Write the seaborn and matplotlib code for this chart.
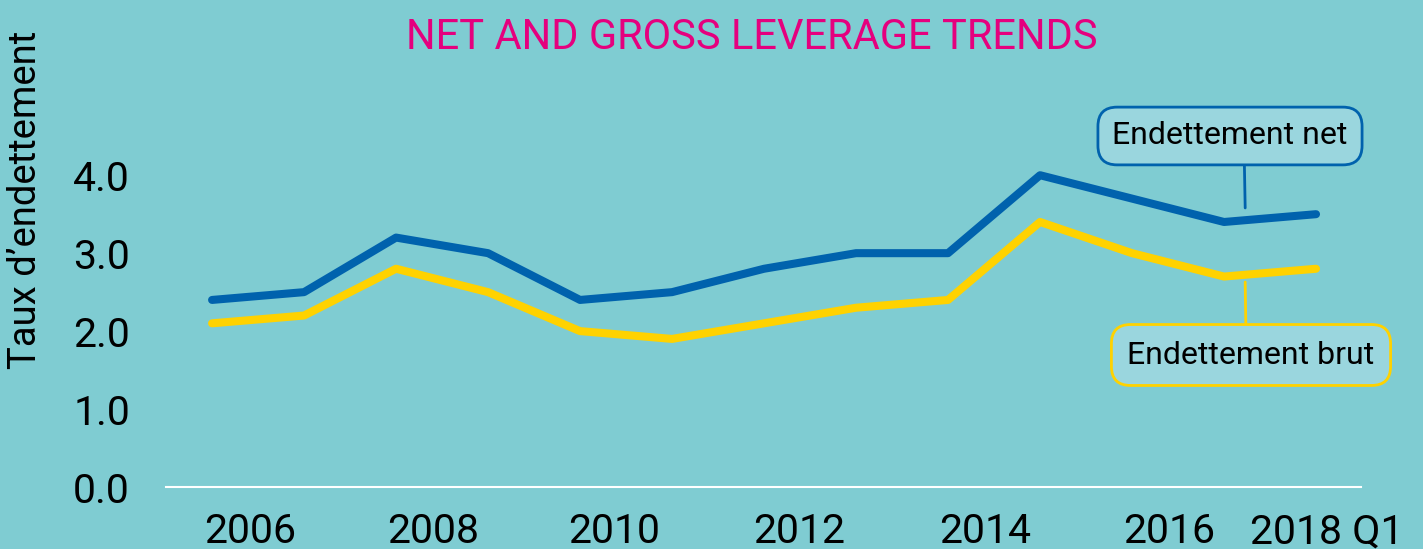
import matplotlib
matplotlib.use("Agg")
import matplotlib.pyplot as plt
import seaborn as sns
import pandas as pd

# ---- data ----
periods = list(range(13))
net_leverage = [2.4, 2.5, 3.2, 3.0, 2.4, 2.5, 2.8, 3.0, 3.0, 4.0, 3.7, 3.4, 3.5]
gross_leverage = [2.1, 2.2, 2.8, 2.5, 2.0, 1.9, 2.1, 2.3, 2.4, 3.4, 3.0, 2.7, 2.8]
series_names = ["Endettement net", "Endettement brut"]
x_tick_labels = ["2006", "2008", "2010", "2012", "2014", "2016", "2018 Q1"]
y_ticks = [0.0, 1.0, 2.0, 3.0, 4.0]

BG = "#7fccd2"
BLUE = "#0062ad"
YELLOW = "#ffd200"
MAGENTA = "#e5007e"
BOXFILL = "#9ad6de"

sns.set_theme(style="white")
plt.rcParams["font.family"] = ["Roboto", "DejaVu Sans"]

df = pd.DataFrame({
    "period": periods * 2,
    "value": net_leverage + gross_leverage,
    "series": [series_names[0]] * len(periods) + [series_names[1]] * len(periods),
})

fig = plt.figure(figsize=(14.23, 5.49), dpi=100, facecolor=BG)
ax = fig.add_axes([0.1167, 0.1129, 0.8398, 0.70])
ax.set_facecolor(BG)

sns.lineplot(data=df, x="period", y="value", hue="series",
             palette={series_names[0]: BLUE, series_names[1]: YELLOW},
             linewidth=5.8, legend=False, ax=ax, solid_capstyle="round")

ax.set_xlim(-0.5, 12.49)
ax.set_ylim(0, 4.93)

tick_pos = [0.41, 2.4, 4.37, 6.38, 8.4, 10.4, 12.12]
ax.set_xticks(tick_pos)
ax.set_xticklabels(x_tick_labels)
ax.set_yticks(y_ticks)
ax.set_yticklabels([f"{v:.1f}" for v in y_ticks])
ax.tick_params(axis="both", length=0, labelsize=29.5, colors="black")
ax.tick_params(axis="y", pad=26)
ax.tick_params(axis="x", pad=18)
ax.set_xlabel("")
ax.set_ylabel("")

for s in ["top", "right", "left"]:
    ax.spines[s].set_visible(False)
ax.spines["bottom"].set_color("white")
ax.spines["bottom"].set_linewidth(1.5)

fig.text(0.528, 0.931, "NET AND GROSS LEVERAGE TRENDS", color=MAGENTA,
         fontsize=30, ha="center", va="center",
         family=["Roboto", "DejaVu Sans"])
fig.text(0.018, 0.636, "Taux d\u2019endettement", rotation=90, fontsize=27.5,
         ha="center", va="center", color="black")

ax.annotate(series_names[0], xy=(11.23, 3.58), xycoords="data",
            xytext=(1230 / 1423, 1 - 136 / 549), textcoords="figure fraction",
            ha="center", va="center", fontsize=23, color="black",
            bbox=dict(boxstyle="round,pad=0.45,rounding_size=0.6",
                      fc=BOXFILL, ec=BLUE, lw=2),
            arrowprops=dict(arrowstyle="-", color=BLUE, lw=2,
                            shrinkA=0, shrinkB=0, relpos=(0.56, 0.0)))
ax.annotate(series_names[1], xy=(11.23, 2.63), xycoords="data",
            xytext=(1251 / 1423, 1 - 355 / 549), textcoords="figure fraction",
            ha="center", va="center", fontsize=23, color="black",
            bbox=dict(boxstyle="round,pad=0.5,rounding_size=0.6",
                      fc=BOXFILL, ec=YELLOW, lw=2),
            arrowprops=dict(arrowstyle="-", color=YELLOW, lw=2,
                            shrinkA=0, shrinkB=0, relpos=(0.48, 1.0)))

fig.savefig("out.png", dpi=100, facecolor=BG)
